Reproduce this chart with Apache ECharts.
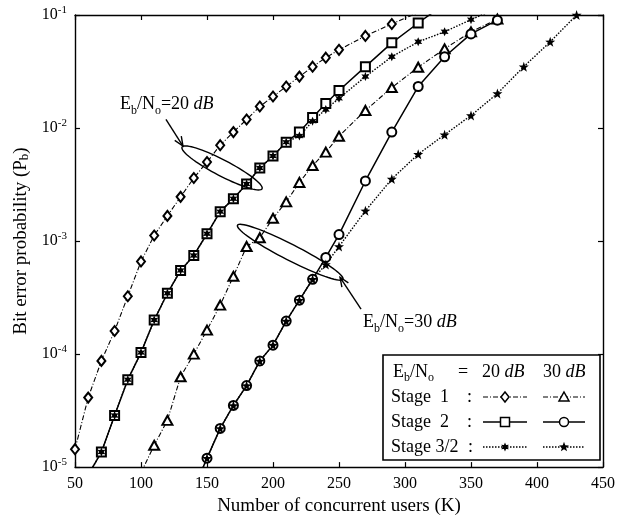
<!DOCTYPE html>
<html><head><meta charset="utf-8">
<script src="https://cdn.jsdelivr.net/npm/echarts@6/dist/echarts.min.js"></script>
<style>html,body{margin:0;padding:0;background:#fff}#c{width:618px;height:521px}</style>
</head><body><div id="c"></div>
<script>
const FONT = 'Liberation Serif';

// ---- tick labels ----
const xTicks = [50, 100, 150, 200, 250, 300, 350, 400, 450];
const yTickExponents = [-5, -4, -3, -2, -1];

// ---- data (K, Pb) ----
// Stage 1, 20 dB (diamonds)
const kStage1_20 = [50,60,70,80,90,100,110,120,130,140,150,160,170,180,190,200,210,220,230,240,250,270,290,310];
const pStage1_20 = [1.44e-5,4.12e-5,8.7e-5,1.6e-4,3.25e-4,6.6e-4,1.12e-3,1.67e-3,2.46e-3,3.61e-3,5.0e-3,7.05e-3,9.2e-3,1.19e-2,1.55e-2,1.9e-2,2.33e-2,2.85e-2,3.49e-2,4.19e-2,4.92e-2,6.53e-2,8.33e-2,0.105];
// Stage 2, 20 dB (squares)
const kStage2_20 = [60,70,80,90,100,110,120,130,140,150,160,170,180,190,200,210,220,230,240,250,270,290,310,330];
const pStage2_20 = [8.5e-6,1.36e-5,2.86e-5,5.94e-5,1.03e-4,2.0e-4,3.45e-4,5.5e-4,7.46e-4,1.16e-3,1.82e-3,2.37e-3,3.2e-3,4.43e-3,5.65e-3,7.5e-3,9.2e-3,1.24e-2,1.65e-2,2.15e-2,3.49e-2,5.67e-2,8.5e-2,0.125];
// Stage 3/2, 20 dB (small filled asterisks)
const kStage32_20 = [60,70,80,90,100,110,120,130,140,150,160,170,180,190,200,210,220,230,240,250,270,290,310,330,350,370];
const pStage32_20 = [8.5e-6,1.36e-5,2.86e-5,5.94e-5,1.03e-4,2.0e-4,3.45e-4,5.5e-4,7.46e-4,1.16e-3,1.82e-3,2.37e-3,3.2e-3,4.43e-3,5.65e-3,7.5e-3,8.5e-3,1.15e-2,1.46e-2,1.83e-2,2.85e-2,4.27e-2,5.79e-2,7.1e-2,9.1e-2,0.115];
// Stage 1, 30 dB (triangles)
const kStage1_30 = [100,110,120,130,140,150,160,170,180,190,200,210,220,230,240,250,270,290,310,330,350,370];
const pStage1_30 = [8.9e-6,1.56e-5,2.59e-5,6.3e-5,1.0e-4,1.63e-4,2.71e-4,4.88e-4,8.95e-4,1.07e-3,1.59e-3,2.22e-3,3.3e-3,4.66e-3,6.12e-3,8.45e-3,1.43e-2,2.28e-2,3.45e-2,5.02e-2,7.1e-2,9.2e-2];
// Stage 2, 30 dB (circles)
const kStage2_30 = [140,150,160,170,180,190,200,210,220,230,240,250,270,290,310,330,350,370];
const pStage2_30 = [6.4e-6,1.2e-5,2.2e-5,3.51e-5,5.26e-5,8.7e-5,1.2e-4,1.96e-4,3.0e-4,4.59e-4,7.16e-4,1.14e-3,3.4e-3,9.2e-3,2.33e-2,4.27e-2,6.8e-2,9.0e-2];
// Stage 3/2, 30 dB (stars)
const kStage32_30 = [140,150,160,170,180,190,200,210,220,230,240,250,270,290,310,330,350,370,390,410,430];
const pStage32_30 = [6.4e-6,1.2e-5,2.2e-5,3.51e-5,5.26e-5,8.7e-5,1.2e-4,1.96e-4,3.0e-4,4.59e-4,6.2e-4,8.95e-4,1.85e-3,3.54e-3,5.87e-3,8.73e-3,1.29e-2,2.02e-2,3.49e-2,5.79e-2,0.1];

// ---- annotations (data coordinates) ----
const ann20 = { text: [84, 1.62e-2], ellipse: [[131.1, 6.78e-3], [191.7, 2.9e-3]], arrow: [[118.9, 1.19e-2], [131.8, 6.92e-3]], label: '20 ' };
const ann30 = { text: [268.2, 1.9e-4], ellipse: [[173.1, 1.38e-3], [253.0, 4.59e-4]], arrow: [[266.7, 2.5e-4], [250.8, 4.78e-4]], label: '30 ' };

// ---- styles ----
const DASHDOT = [5, 2, 1, 2];
const DOTTED = [1.5, 1.5];
const STAR6 = 'path://M10,0L12.5,5.67L18.66,5L15,10L18.66,15L12.5,14.33L10,20L7.5,14.33L1.34,15L5,10L1.34,5L7.5,5.67Z';
const STAR5 = 'path://M10,0L12.35,6.76L19.51,6.91L13.8,11.24L15.88,18.09L10,14L4.12,18.09L6.2,11.24L0.49,6.91L7.65,6.76Z';

function pairs(k, p) { return k.map((x, i) => [x, p[i]]); }

const txtRich = {
  n: { fontFamily: FONT, fontSize: 18, lineHeight: 24, color: '#000' },
  s: { fontFamily: FONT, fontSize: 12, lineHeight: 12, verticalAlign: 'bottom', color: '#000' },
  i: { fontFamily: FONT, fontSize: 18, lineHeight: 24, fontStyle: 'italic', color: '#000' }
};

function mkSeries(name, k, p, symbol, size, lt, lw, empty) {
  return {
    name, type: 'line', data: pairs(k, p), symbol, symbolSize: size,
    lineStyle: { color: '#000', width: lw, type: lt },
    itemStyle: { color: '#000', borderColor: '#000', borderWidth: empty ? 1.5 : 0 },
    emphasis: { disabled: true }, clip: true
  };
}

const axisLine = { show: true, onZero: false, lineStyle: { color: '#000', width: 1.4 } };
const axisTick = { show: true, inside: true, length: 5, lineStyle: { color: '#000', width: 1.2 } };

const option = {
  animation: false,
  backgroundColor: '#fff',
  grid: { left: 75, right: 15, top: 15, bottom: 51 },
  xAxis: [
    { type: 'value', min: xTicks[0], max: xTicks[xTicks.length - 1], interval: 50, position: 'bottom',
      axisLine, axisTick, splitLine: { show: false },
      axisLabel: { color: '#000', fontFamily: FONT, fontSize: 16, margin: 9,
        formatter: v => String(xTicks.find(t => t === v)) },
      name: 'Number of concurrent users (K)', nameLocation: 'middle', nameGap: 27,
      nameTextStyle: { color: '#000', fontFamily: FONT, fontSize: 19 } },
    { type: 'value', min: xTicks[0], max: xTicks[xTicks.length - 1], interval: 50, position: 'top',
      axisLine, axisTick, splitLine: { show: false }, axisLabel: { show: false } }
  ],
  yAxis: [
    { type: 'log', logBase: 10, min: 1e-5, max: 1e-1, position: 'left',
      axisLine, axisTick, splitLine: { show: false }, minorTick: { show: false },
      axisLabel: { color: '#000', margin: 8,
        formatter: v => { const e = yTickExponents.find(x => Math.abs(Math.log10(v) - x) < 1e-6); return '{b|10}{sup|' + e + '}'; },
        rich: { b: { fontFamily: FONT, fontSize: 16, lineHeight: 20, color: '#000' },
                sup: { fontFamily: FONT, fontSize: 11, lineHeight: 11, verticalAlign: 'top', color: '#000' } } },
      name: 'Bit error probability (P{s|b})', nameLocation: 'middle', nameGap: 43,
      nameTextStyle: { color: '#000', fontFamily: FONT, fontSize: 19,
        rich: { s: { fontFamily: FONT, fontSize: 13, lineHeight: 13, verticalAlign: 'bottom', color: '#000' } } } },
    { type: 'log', logBase: 10, min: 1e-5, max: 1e-1, position: 'right',
      axisLine, axisTick, splitLine: { show: false }, axisLabel: { show: false } }
  ],
  series: [
    mkSeries('Stage 1, 20 dB', kStage1_20, pStage1_20, 'emptyDiamond', [8, 10], DASHDOT, 1.1, true),
    mkSeries('Stage 2, 20 dB', kStage2_20, pStage2_20, 'emptyRect', 9, 'solid', 1.5, true),
    mkSeries('Stage 1, 30 dB', kStage1_30, pStage1_30, 'emptyTriangle', [10, 9], DASHDOT, 1.1, true),
    mkSeries('Stage 2, 30 dB', kStage2_30, pStage2_30, 'emptyCircle', 9, 'solid', 1.5, true),
    mkSeries('Stage 3/2, 20 dB', kStage32_20, pStage32_20, STAR6, [8, 9], DOTTED, 1.4, false),
    mkSeries('Stage 3/2, 30 dB', kStage32_30, pStage32_30, STAR5, [10, 10], DOTTED, 1.4, false)
  ]
};

const chart = echarts.init(document.getElementById('c'));
chart.setOption(option);

const px = p => chart.convertToPixel({ xAxisIndex: 0, yAxisIndex: 0 }, p);
const STROKE = { stroke: '#000', lineWidth: 1.4, fill: null };

function ellipsePts(a, b, semiMinor) {
  const p1 = px(a), p2 = px(b);
  const cx = (p1[0] + p2[0]) / 2, cy = (p1[1] + p2[1]) / 2;
  const dx = p2[0] - p1[0], dy = p2[1] - p1[1];
  const ra = Math.hypot(dx, dy) / 2, th = Math.atan2(dy, dx);
  const pts = [];
  for (let i = 0; i < 72; i++) {
    const t = i / 72 * Math.PI * 2;
    const u = ra * Math.cos(t), v = semiMinor * Math.sin(t);
    pts.push([cx + u * Math.cos(th) - v * Math.sin(th), cy + u * Math.sin(th) + v * Math.cos(th)]);
  }
  return pts;
}
function arrowEls(a, b) {
  const s = px(a), t = px(b);
  const ang = Math.atan2(s[1] - t[1], s[0] - t[0]);
  const L = 10, w = 0.4;
  return [
    { type: 'line', shape: { x1: s[0], y1: s[1], x2: t[0], y2: t[1] }, style: STROKE, z: 50 },
    { type: 'polyline', shape: { points: [
      [t[0] + L * Math.cos(ang + w), t[1] + L * Math.sin(ang + w)], t,
      [t[0] + L * Math.cos(ang - w), t[1] + L * Math.sin(ang - w)]] }, style: STROKE, z: 50 }
  ];
}
function annEls(a) {
  const tp = px(a.text);
  return [
    { type: 'polygon', shape: { points: ellipsePts(a.ellipse[0], a.ellipse[1], 8) }, style: STROKE, z: 50 },
    ...arrowEls(a.arrow[0], a.arrow[1]),
    { type: 'text', x: tp[0], y: tp[1], z: 51, style: {
      text: '{n|E}{s|b}{n|/N}{s|o}{n|=' + a.label + '}{i|dB}', rich: txtRich,
      align: 'left', verticalAlign: 'middle', fill: '#000' } }
  ];
}

// legend (table) ---------------------------------------------------
function symEl(type, cx, cy) {
  const st = { stroke: '#000', lineWidth: 1.5, fill: '#fff' };
  const star = (n, ro, ri) => { const p = []; for (let i = 0; i < 2 * n; i++) { const r = i % 2 ? ri : ro; const a = -Math.PI / 2 + i * Math.PI / n; p.push([cx + r * Math.cos(a), cy + r * Math.sin(a)]); } return p; };
  if (type === 'diamond') return { type: 'polygon', shape: { points: [[cx, cy - 5], [cx + 4, cy], [cx, cy + 5], [cx - 4, cy]] }, style: st, z: 62 };
  if (type === 'rect') return { type: 'rect', shape: { x: cx - 4.5, y: cy - 4.5, width: 9, height: 9 }, style: st, z: 62 };
  if (type === 'triangle') return { type: 'polygon', shape: { points: [[cx, cy - 5], [cx + 5, cy + 4], [cx - 5, cy + 4]] }, style: st, z: 62 };
  if (type === 'circle') return { type: 'circle', shape: { cx, cy, r: 4.5 }, style: st, z: 62 };
  if (type === 'star6') return { type: 'polygon', shape: { points: star(6, 4.5, 2.2) }, style: { fill: '#000' }, z: 62 };
  return { type: 'polygon', shape: { points: star(5, 5.2, 2.2) }, style: { fill: '#000' }, z: 62 };
}
function sample(x1, x2, cy, dash, lw, sym) {
  return [
    { type: 'line', shape: { x1, y1: cy, x2, y2: cy }, style: { stroke: '#000', lineWidth: lw, lineDash: dash === 'solid' ? null : dash }, z: 61 },
    symEl(sym, (x1 + x2) / 2, cy)
  ];
}
const LX = 383, LY = 355, LW = 217, LH = 105;
const rows = [LY + 17, LY + 42, LY + 67, LY + 92];
const legendEls = [
  { type: 'rect', shape: { x: LX, y: LY, width: LW, height: LH }, style: { fill: '#fff', stroke: '#000', lineWidth: 1.6 }, z: 60 },
  { type: 'text', x: LX + 10, y: rows[0], z: 61, style: { text: '{n|E}{s|b}{n|/N}{s|o}', rich: txtRich, verticalAlign: 'middle' } },
  { type: 'text', x: LX + 75, y: rows[0], z: 61, style: { text: '{n|=}', rich: txtRich, verticalAlign: 'middle' } },
  { type: 'text', x: LX + 99, y: rows[0], z: 61, style: { text: '{n|20 }{i|dB}', rich: txtRich, verticalAlign: 'middle' } },
  { type: 'text', x: LX + 160, y: rows[0], z: 61, style: { text: '{n|30 }{i|dB}', rich: txtRich, verticalAlign: 'middle' } },
  { type: 'text', x: LX + 8, y: rows[1], z: 61, style: { text: '{n|Stage  1}', rich: txtRich, verticalAlign: 'middle' } },
  { type: 'text', x: LX + 8, y: rows[2], z: 61, style: { text: '{n|Stage  2}', rich: txtRich, verticalAlign: 'middle' } },
  { type: 'text', x: LX + 8, y: rows[3], z: 61, style: { text: '{n|Stage 3/2}', rich: txtRich, verticalAlign: 'middle' } },
  { type: 'text', x: LX + 84, y: rows[1], z: 61, style: { text: '{n|:}', rich: txtRich, verticalAlign: 'middle' } },
  { type: 'text', x: LX + 84, y: rows[2], z: 61, style: { text: '{n|:}', rich: txtRich, verticalAlign: 'middle' } },
  { type: 'text', x: LX + 85, y: rows[3], z: 61, style: { text: '{n|:}', rich: txtRich, verticalAlign: 'middle' } },
  ...sample(LX + 100, LX + 144, rows[1], DASHDOT, 1.1, 'diamond'),
  ...sample(LX + 160, LX + 202, rows[1], DASHDOT, 1.1, 'triangle'),
  ...sample(LX + 100, LX + 144, rows[2], 'solid', 1.5, 'rect'),
  ...sample(LX + 160, LX + 202, rows[2], 'solid', 1.5, 'circle'),
  ...sample(LX + 100, LX + 144, rows[3], DOTTED, 1.4, 'star6'),
  ...sample(LX + 160, LX + 202, rows[3], DOTTED, 1.4, 'star5')
];

chart.setOption({ graphic: { elements: [...annEls(ann20), ...annEls(ann30), ...legendEls] } });
</script>
</body></html>
